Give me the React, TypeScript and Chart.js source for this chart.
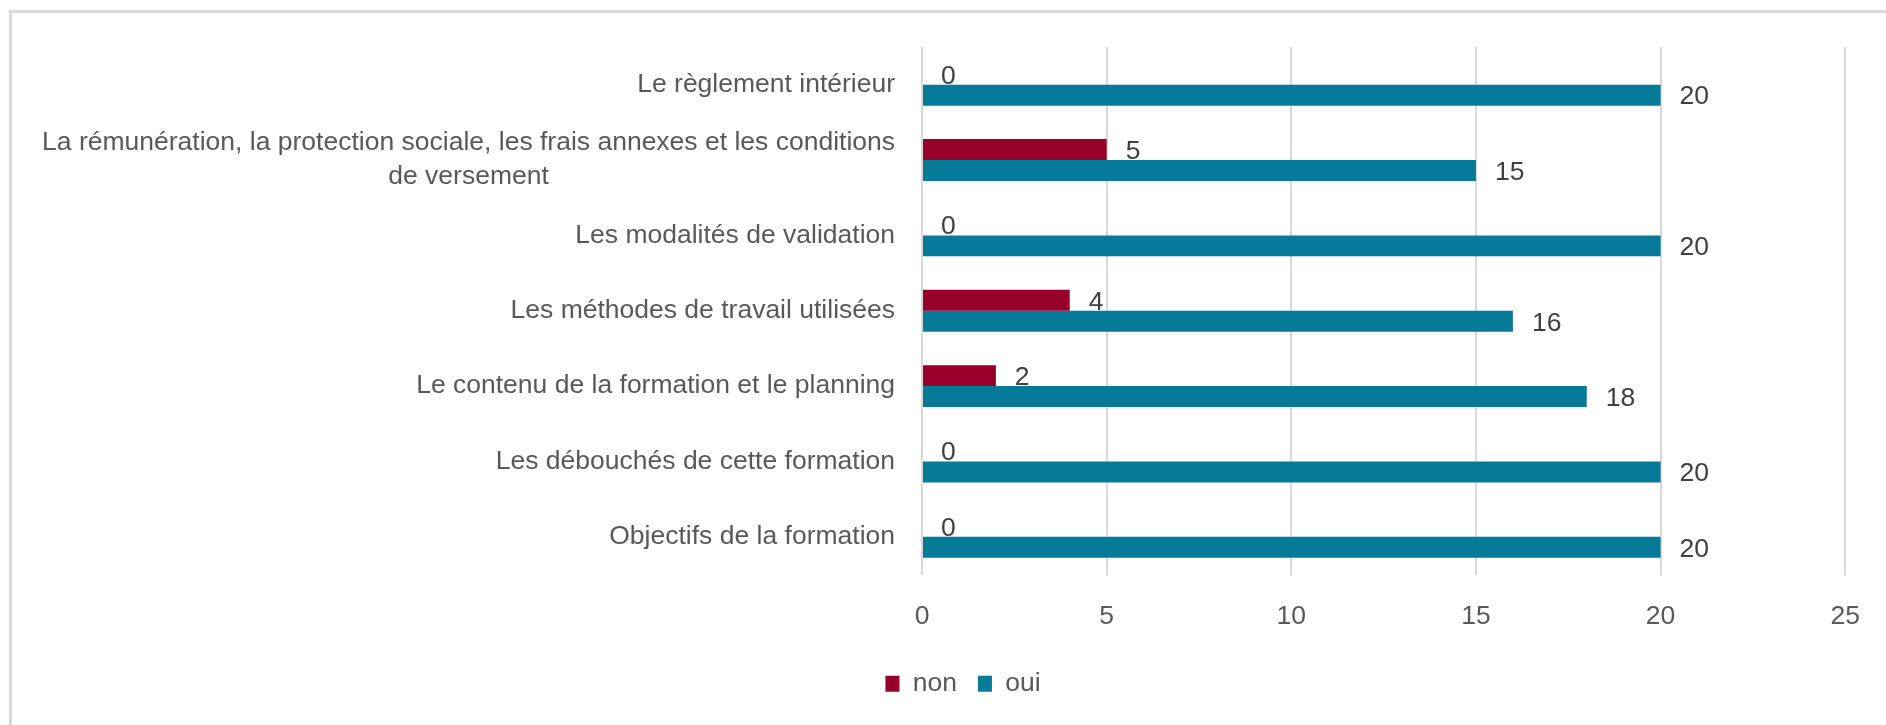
import React, { useEffect, useRef } from "react";
import { Chart, registerables } from "chart.js";

Chart.register(...registerables);

const categories: (string | string[])[] = [
  "Le règlement intérieur",
  [
    "La rémunération, la protection sociale, les frais annexes et les conditions",
    "de versement",
  ],
  "Les modalités de validation",
  "Les méthodes de travail utilisées",
  "Le contenu de la formation et le planning",
  "Les débouchés de cette formation",
  "Objectifs de la formation",
];
const seriesNames = ["non", "oui"];
const nonValues = [0, 5, 0, 4, 2, 0, 0];
const ouiValues = [20, 15, 20, 16, 18, 20, 20];
const xTickValues = [0, 5, 10, 15, 20, 25];

const FONT_FAMILY = "'Liberation Sans', Arial, sans-serif";
const TEXT_SIZE = 26.5;
const TEXT_COLOR = "#595959";
const VALUE_COLOR = "#404040";

const categoryLabelPlugin = {
  id: "categoryLabels",
  afterDraw(chart: any) {
    const ctx = chart.ctx;
    const yScale = chart.scales.y;
    const right = chart.chartArea.left - 27;
    ctx.save();
    ctx.font = `${TEXT_SIZE}px ${FONT_FAMILY}`;
    ctx.fillStyle = TEXT_COLOR;
    ctx.textBaseline = "middle";
    ctx.textAlign = "center";
    (chart.data.labels as (string | string[])[]).forEach((lab, i) => {
      const y = yScale.getPixelForValue(i);
      const lines = Array.isArray(lab) ? lab : [lab];
      const maxW = Math.max(...lines.map((l) => ctx.measureText(l).width));
      const cx = right - maxW / 2;
      const lh = 34;
      lines.forEach((l, j) => {
        ctx.fillText(l, cx, y + (j - (lines.length - 1) / 2) * lh);
      });
    });
    ctx.restore();
  },
};

const valueLabelPlugin = {
  id: "valueLabels",
  afterDatasetsDraw(chart: any) {
    const ctx = chart.ctx;
    ctx.save();
    ctx.font = `${TEXT_SIZE}px ${FONT_FAMILY}`;
    ctx.fillStyle = VALUE_COLOR;
    ctx.textBaseline = "middle";
    ctx.textAlign = "left";
    chart.data.datasets.forEach((ds: any, di: number) => {
      const meta = chart.getDatasetMeta(di);
      meta.data.forEach((el: any, i: number) => {
        ctx.fillText(String(ds.data[i]), el.x + 19, el.y + 2);
      });
    });
    ctx.restore();
  },
};

export default function App() {
  const canvasRef = useRef<HTMLCanvasElement | null>(null);

  useEffect(() => {
    if (!canvasRef.current) return;
    const chart = new Chart(canvasRef.current, {
      type: "bar",
      data: {
        labels: categories as any,
        datasets: [
          {
            label: seriesNames[0],
            data: nonValues,
            backgroundColor: "#96002B",
            categoryPercentage: 0.556,
            barPercentage: 1,
          },
          {
            label: seriesNames[1],
            data: ouiValues,
            backgroundColor: "#067A99",
            categoryPercentage: 0.556,
            barPercentage: 1,
          },
        ],
      },
      options: {
        indexAxis: "y",
        responsive: false,
        animation: false,
        devicePixelRatio: 1,
        layout: { padding: { top: 47, right: 34, left: 74, bottom: 18 } },
        scales: {
          x: {
            min: 0,
            max: 25,
            afterBuildTicks: (s: any) => {
              s.ticks = xTickValues.map((v) => ({ value: v }));
            },
            ticks: {
              color: TEXT_COLOR,
              font: { size: TEXT_SIZE, family: FONT_FAMILY },
              padding: 26,
              maxRotation: 0,
            },
            grid: { color: "#d9d9d9", lineWidth: 2, drawTicks: false },
            border: { display: false },
            afterFit: (s: any) => {
              s.height = 75;
            },
          },
          y: {
            grid: { display: false },
            border: { display: false },
            ticks: { display: false },
            afterFit: (s: any) => {
              s.width = 848;
            },
          },
        },
        plugins: {
          legend: {
            position: "bottom",
            labels: {
              boxWidth: 14,
              boxHeight: 16,
              color: TEXT_COLOR,
              font: { size: TEXT_SIZE, family: FONT_FAMILY },
              padding: 21,
            },
          },
          tooltip: { enabled: false },
        },
      },
      plugins: [categoryLabelPlugin, valueLabelPlugin],
    });
    return () => chart.destroy();
  }, []);

  return (
    <div
      style={{
        position: "absolute",
        left: 0,
        top: 0,
        width: 1886,
        height: 725,
        background: "#ffffff",
        overflow: "hidden",
      }}
    >
      <div
        style={{
          position: "absolute",
          left: 9,
          top: 10,
          width: 1900,
          height: 730,
          borderLeft: "3px solid #d9d9d9",
          borderTop: "3px solid #d9d9d9",
        }}
      />
      <canvas
        ref={canvasRef}
        width={1886}
        height={725}
        style={{ position: "absolute", left: 0, top: 0, width: 1886, height: 725 }}
      />
    </div>
  );
}
